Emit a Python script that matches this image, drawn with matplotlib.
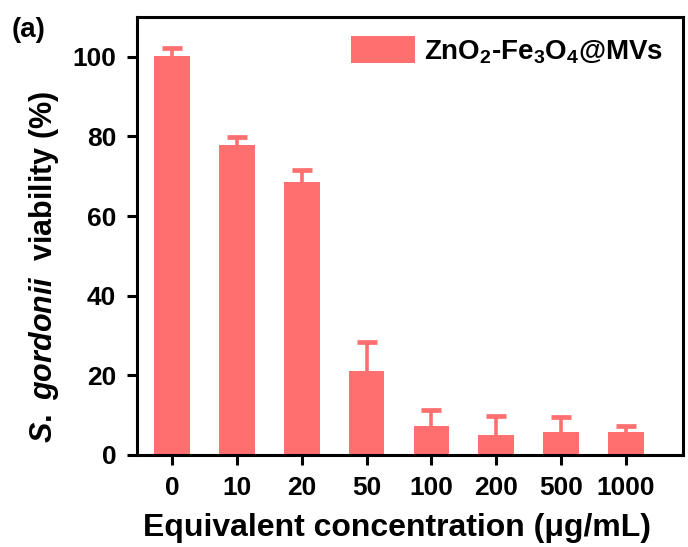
import matplotlib
matplotlib.use("Agg")
import matplotlib as mpl
import matplotlib.pyplot as plt
import numpy as np

mpl.rcParams.update({
    "font.family": ["Liberation Sans", "DejaVu Sans"],
    "font.weight": "bold",
    "mathtext.fontset": "custom",
    "mathtext.rm": "Liberation Sans:bold",
    "mathtext.it": "Liberation Sans:italic:bold",
    "mathtext.bf": "Liberation Sans:bold",
    "axes.linewidth": 2.2,
})

concentrations = ["0", "10", "20", "50", "100", "200", "500", "1000"]
viability = [100.2, 77.8, 68.6, 21.2, 7.2, 4.9, 5.9, 5.9]
viability_err = [1.9, 2.0, 3.0, 7.1, 4.0, 4.9, 3.6, 1.4]

C_BAR = "#FF6F6F"

fig = plt.figure(figsize=(6.88, 5.47), dpi=100)
ax = fig.add_axes([137 / 688, 1 - 455 / 547, (683 - 137) / 688, (455 - 17) / 547])

x = np.arange(len(concentrations))
vals = np.array(viability)
errs = np.array(viability_err)
ax.bar(x, vals, width=0.55, color=C_BAR, zorder=2,
       label=r"ZnO$_2$-Fe$_3$O$_4$@MVs")
# upper error bars only: stem behind the bar, flat cap on top
ax.vlines(x, vals - 1, vals + errs, color=C_BAR, lw=2.6, zorder=1)
ax.plot(x, vals + errs, ls="none", marker="_", ms=15, mew=3.4, color=C_BAR,
        zorder=1)

ax.set_xlim(-0.54, 7.88)
ax.set_ylim(0, 110)
ax.set_yticks([0, 20, 40, 60, 80, 100])
ax.set_xticks(x)
ax.set_xticklabels(concentrations)
ax.tick_params(axis="both", direction="out", length=7, width=2.2, labelsize=19, pad=8)

ax.set_xlabel("Equivalent concentration (μg/mL)", fontsize=23, fontweight="bold")
ax.xaxis.set_label_coords(0.476, -0.132)
ax.set_ylabel(r"$\mathit{S.\ gordonii}$  viability (%)", fontsize=22, fontweight="bold")
ax.yaxis.set_label_coords(-0.139, 0.43)

ax.legend(loc="upper right", frameon=False, fontsize=20, handlelength=2.3,
          handleheight=1.1, handletextpad=0.35, borderaxespad=0.3,
          bbox_to_anchor=(1.0, 1.0))

fig.text(12 / 688, 1 - 30 / 547, "(a)", fontsize=20, fontweight="bold", va="center", ha="left")

fig.savefig("out.png", dpi=100)
